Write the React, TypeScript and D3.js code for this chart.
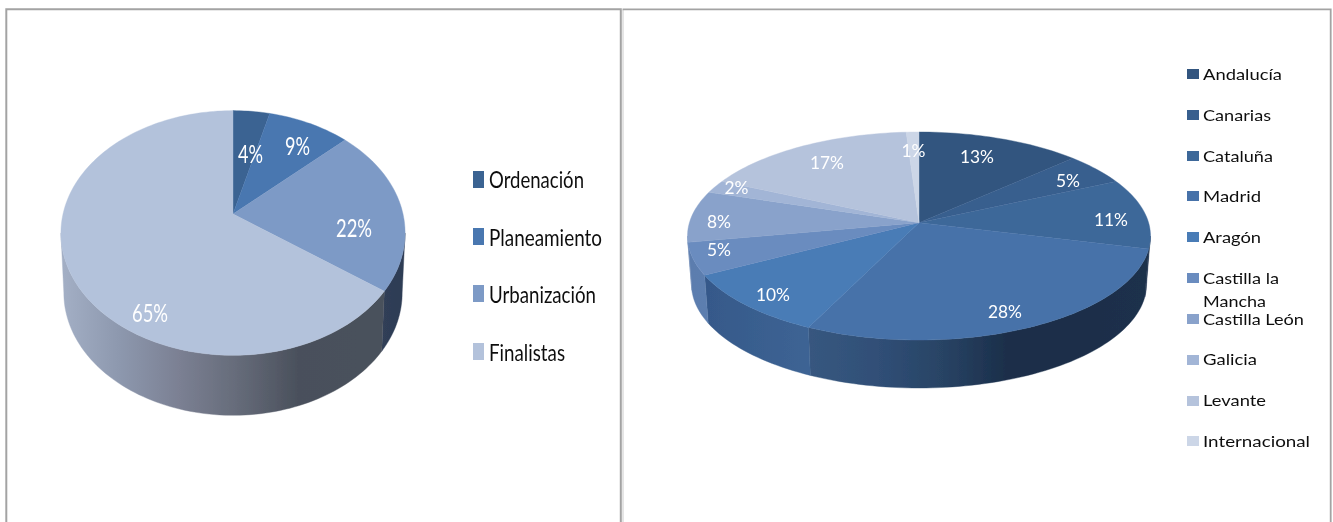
import React from "react";
import * as d3 from "d3";

// ---- data ----
const leftCategories = ["Ordenación", "Planeamiento", "Urbanización", "Finalistas"];
const leftValues = [4, 9, 22, 65];
const rightCategories = ["Andalucía", "Canarias", "Cataluña", "Madrid", "Aragón", "Castilla la Mancha", "Castilla León", "Galicia", "Levante", "Internacional"];
const rightValues = [13, 5, 11, 28, 10, 5, 8, 2, 17, 1];

// ---- styles ----
const leftColors = ["#3b6392", "#4877b0", "#7d9ac6", "#b3c2db"];
const rightColors = ["#32557f", "#385e8e", "#3e6899", "#4672a9", "#487bb6", "#6a8cbf", "#89a2cb", "#a2b5d6", "#b5c3dc", "#ccd6e7"];
const leftWalls: string[][] = [
  ["#2b3a52", "#2b3a52"],
  ["#2b3a52", "#2b3a52"],
  ["#303f58", "#2e3c54"],
  ["#a4b0c6", "#8d98ae", "#7b8093", "#656b79", "#4a505c", "#4a515c"],
];
const rightWalls: string[][] = [
  ["#1b2e4a", "#1b2e4a"],
  ["#1b2e4a", "#1b2e4a"],
  ["#1b2e4a", "#1b2e4a"],
  ["#37577f", "#304f77", "#284364", "#1a2d48", "#1a2e49", "#1b304c"],
  ["#36598a", "#3d6494"],
  ["#5b7dae", "#5c7eaf"],
  ["#7a93bb", "#7a93bb"],
  ["#8fa1bf", "#8fa1bf"],
  ["#a0adc4", "#a0adc4"],
  ["#b3bdd0", "#b3bdd0"],
];

// ---- layout ----
type Geo = { cx: number; cy: number; R: number; H: number; k: number; depth: number; shrink: number };
const leftGeo: Geo = { cx: 233, cy: 214, R: 170, H: 119.4, k: 0.155, depth: 60, shrink: 0.983 };
const rightGeo: Geo = { cx: 919, cy: 222.7, R: 229.6, H: 102.3, k: 0.128, depth: 48, shrink: 0.983 };
const leftSpots = [[250.5, 163, 25], [297.5, 155, 25], [354, 237, 36], [150, 322, 36]];
const rightSpots = [[977, 163, 34], [1068, 187, 24], [1111, 226, 34], [1005, 318, 34], [773, 301, 34], [719, 256, 24], [719, 228, 24], [736.5, 194, 24], [827, 169, 34], [913.5, 157, 24]];
const leftLegendRows = [[171, 188, 95], [228, 246, 113], [285, 303, 107], [343, 361, 76]];
const rightLegendRows = [[69, 80, 79], [110, 121, 68], [151, 162, 70], [191, 202, 58], [232, 243, 58], [273, 284, 76], [314, 325, 101], [355, 365, 54], [396, 406, 63], [436, 447, 107]];
const wrappedLine = { text: "Mancha", first: "Castilla la", y: 307, width: 63 };

const FONT = "Lato, 'Open Sans', sans-serif";

function project(g: Geo, theta: number, r = 1, lower = false): [number, number] {
  const u = r * Math.sin(theta);
  const v = r * Math.cos(theta);
  const w = 1 + g.k * v;
  const s = lower ? g.shrink : 1;
  return [g.cx + (s * g.R * u) / w, g.cy - (g.H * v) / w + (lower ? g.depth : 0)];
}

const lineGen = d3.line<[number, number]>().x((d) => d[0]).y((d) => d[1]);

function arcPoints(g: Geo, a0: number, a1: number, lower = false): [number, number][] {
  const n = Math.max(2, Math.ceil(((a1 - a0) / (2 * Math.PI)) * 240));
  return d3.range(n + 1).map((i) => project(g, a0 + ((a1 - a0) * i) / n, 1, lower));
}

function arcX(g: Geo, a: { startAngle: number; endAngle: number }, start: boolean): number {
  const frontA = Math.acos(-g.k);
  const frontB = 2 * Math.PI - frontA;
  const a0 = Math.max(a.startAngle, frontA);
  const a1 = Math.min(a.endAngle, frontB);
  if (a1 <= a0) return g.cx + (start ? 0 : 1);
  const xs = [project(g, a0, 1, true)[0], project(g, a1, 1, true)[0]];
  return start ? Math.min(...xs) : Math.max(...xs) + 0.01;
}

function Pie3D({ id, values, colors, walls, geo, spots, fontSize }: { id: string; values: number[]; colors: string[]; walls: string[][]; geo: Geo; spots: number[][]; fontSize: number }) {
  const arcs = d3.pie<number>().sort(null)(values);
  const frontA = Math.acos(-geo.k);
  const frontB = 2 * Math.PI - frontA;
  const xL = geo.cx - geo.R * 1.02;
  const xR = geo.cx + geo.R * 1.02;
  return (
    <g>
      <defs>
        {walls.map((stops, i) => (
          <linearGradient key={i} id={`${id}-w${i}`} gradientUnits="userSpaceOnUse" x1={i === walls.length - 1 && id === "l" ? xL : arcX(geo, arcs[i], true)} x2={i === walls.length - 1 && id === "l" ? xR - (xR - xL) * 0.14 : arcX(geo, arcs[i], false)} y1={0} y2={0}>
            {stops.map((c, j) => (
              <stop key={j} offset={j / (stops.length - 1)} stopColor={c} />
            ))}
          </linearGradient>
        ))}
      </defs>
      <g filter="url(#soft)">
        {arcs.map((a, i) => {
          const a0 = Math.max(a.startAngle, frontA);
          const a1 = Math.min(a.endAngle, frontB);
          if (a1 <= a0) return null;
          const pts = [...arcPoints(geo, a0, a1), ...arcPoints(geo, a0, a1, true).reverse()];
          return <path key={i} d={lineGen(pts) + "Z"} fill={`url(#${id}-w${i})`} stroke={`url(#${id}-w${i})`} strokeWidth={0.4} />;
        })}
        {arcs.map((a, i) => {
          const pts: [number, number][] = [[geo.cx, geo.cy], ...arcPoints(geo, a.startAngle, a.endAngle)];
          return <path key={i} d={lineGen(pts) + "Z"} fill={colors[i]} stroke={colors[i]} strokeWidth={0.4} />;
        })}
      </g>
      <g filter="url(#softText)">
        {values.map((v, i) => (
          <text key={i} x={spots[i][0] - spots[i][2] / 2} y={spots[i][1]} fill="#fff" fontFamily={FONT} fontSize={fontSize} textLength={spots[i][2]} lengthAdjust="spacingAndGlyphs">
            {`${v}%`}
          </text>
        ))}
      </g>
    </g>
  );
}

function Legend({ names, colors, rows, swX, swW, swH, textX, fontSize }: { names: string[]; colors: string[]; rows: number[][]; swX: number; swW: number; swH: number; textX: number; fontSize: number }) {
  return (
    <g fontFamily={FONT} fontSize={fontSize} fill="#111" filter="url(#softText)">
      {names.map((name, i) => {
        const label = name === wrappedLine.first + " " + wrappedLine.text ? wrappedLine.first : name;
        return (
          <g key={name}>
            <rect x={swX} y={rows[i][0]} width={swW} height={swH} fill={colors[i]} />
            <text x={textX} y={rows[i][1]} textLength={rows[i][2]} lengthAdjust="spacingAndGlyphs">{label}</text>
            {label !== name && (
              <text x={textX} y={wrappedLine.y} textLength={wrappedLine.width} lengthAdjust="spacingAndGlyphs">{wrappedLine.text}</text>
            )}
          </g>
        );
      })}
    </g>
  );
}

export default function App() {
  return (
    <svg width={1333} height={522} viewBox="0 0 1333 522" style={{ position: "fixed", left: 0, top: 0, background: "#fff" }}>
      <defs>
        <filter id="soft" x="-5%" y="-5%" width="110%" height="110%">
          <feGaussianBlur stdDeviation={0.45} />
        </filter>
        <filter id="softText" x="-5%" y="-5%" width="110%" height="110%">
          <feGaussianBlur stdDeviation={0.3} />
        </filter>
      </defs>
      <g fill="none">
        <path d="M623,522V10" stroke="#dcdcdc" strokeWidth={1.5} />
        <path d="M6.3,522V9.3H620.8V522" stroke="#a3a3a3" strokeWidth={2} />
        <path d="M622.5,9.3H1330.7V522" stroke="#a3a3a3" strokeWidth={1.8} />
      </g>
      <Pie3D id="l" values={leftValues} colors={leftColors} walls={leftWalls} geo={leftGeo} spots={leftSpots} fontSize={25} />
      <Legend names={leftCategories} colors={leftColors} rows={leftLegendRows} swX={473} swW={11} swH={17} textX={489} fontSize={24} />
      <Pie3D id="r" values={rightValues} colors={rightColors} walls={rightWalls} geo={rightGeo} spots={rightSpots} fontSize={16.5} />
      <Legend names={rightCategories} colors={rightColors} rows={rightLegendRows} swX={1187} swW={12} swH={10} textX={1203} fontSize={16} />
    </svg>
  );
}
